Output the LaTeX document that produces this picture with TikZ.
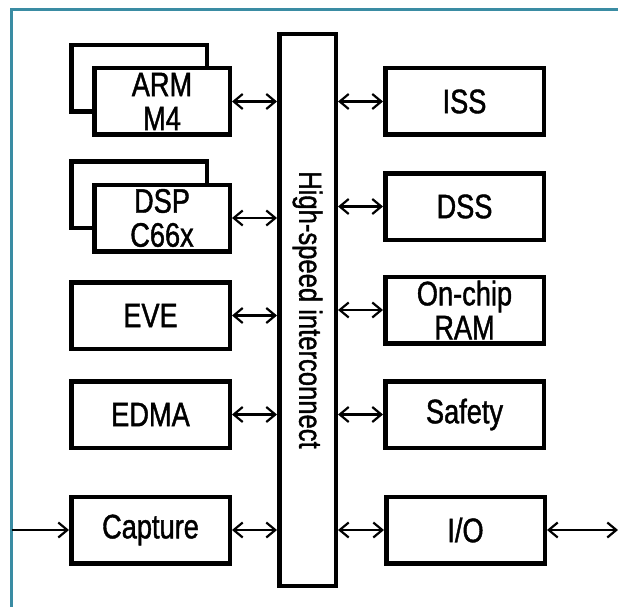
\documentclass[tikz,border=0pt]{standalone}
\usepackage{fontspec}
\usepackage{tikz}
\usetikzlibrary{arrows.meta}
\newfontfamily\blockfont{Liberation Sans}[FakeStretch=0.8, FakeBold=1.2]
\definecolor{frameteal}{RGB}{58,140,163}

\begin{document}
\begin{tikzpicture}[x=1pt, y=-1pt,
        block/.style={draw, line width=4.5pt, fill=white, align=center,
            minimum width=158.5, minimum height=66.5,
            font=\blockfont\fontsize{34}{34}\selectfont},
        core/.style={block, minimum width=135.5},
        link/.style={line width=2.2pt, {Straight Barb[length=9pt,width=15pt]}-{Straight Barb[length=9pt,width=15pt]}},
        feed/.style={line width=2.2pt, -{Straight Barb[length=9pt,width=15pt]}}]
        \useasboundingbox (0,0) rectangle (618,607);
        \draw [frameteal, line width=3pt] (11.5,607) -- (11.5,10) -- (618,10);
        % interconnect
        \node [draw, line width=4.5pt, minimum width=56.5, minimum height=551.5] (bar) at (307.5,310) {};
        \node [rotate=-90, font=\blockfont\fontsize{32}{34}\selectfont] (barlabel) at (bar.center) {High-speed interconnect};
        % left column
        \node [core] (armback) at (139,78.5) {};
        \node [core] (arm) at (162,101.5) {ARM\\M4};
        \node [core] (dspback) at (139,194.5) {};
        \node [core] (dsp) at (162,218) {DSP\\C66x};
        \node [block] (eve) at (150.5,315.5) {EVE};
        \node [block] (edma) at (150.5,414.5) {EDMA};
        \node [block] (capture) at (150.5,530) {Capture};
        % right column
        \node [block] (iss) at (464.5,101.5) {ISS};
        \node [block] (dss) at (464.5,206.5) {DSS};
        \node [block] (ram) at (464.5,310) {On-chip\\RAM};
        \node [block] (safety) at (464.5,414.5) {Safety};
        \node [block] (io) at (465.5,530) {I/O};
        \coordinate (camin) at (11.5,530);
        \coordinate (ioout) at (618,530);
        \draw [link] (arm.east) -- (arm.east -| bar.west);
        \draw [link] (dsp.east) -- (dsp.east -| bar.west);
        \draw [link] (eve.east) -- (eve.east -| bar.west);
        \draw [link] (edma.east) -- (edma.east -| bar.west);
        \draw [link] (capture.east) -- (capture.east -| bar.west);
        \draw [link] (bar.east |- iss.west) -- (iss.west);
        \draw [link] (bar.east |- dss.west) -- (dss.west);
        \draw [link] (bar.east |- ram.west) -- (ram.west);
        \draw [link] (bar.east |- safety.west) -- (safety.west);
        \draw [link] (bar.east |- io.west) -- (io.west);
        \draw [feed] (camin) -- (capture.west);
        \draw [link] (io.east) -- (ioout);
\end{tikzpicture}
\end{document}
